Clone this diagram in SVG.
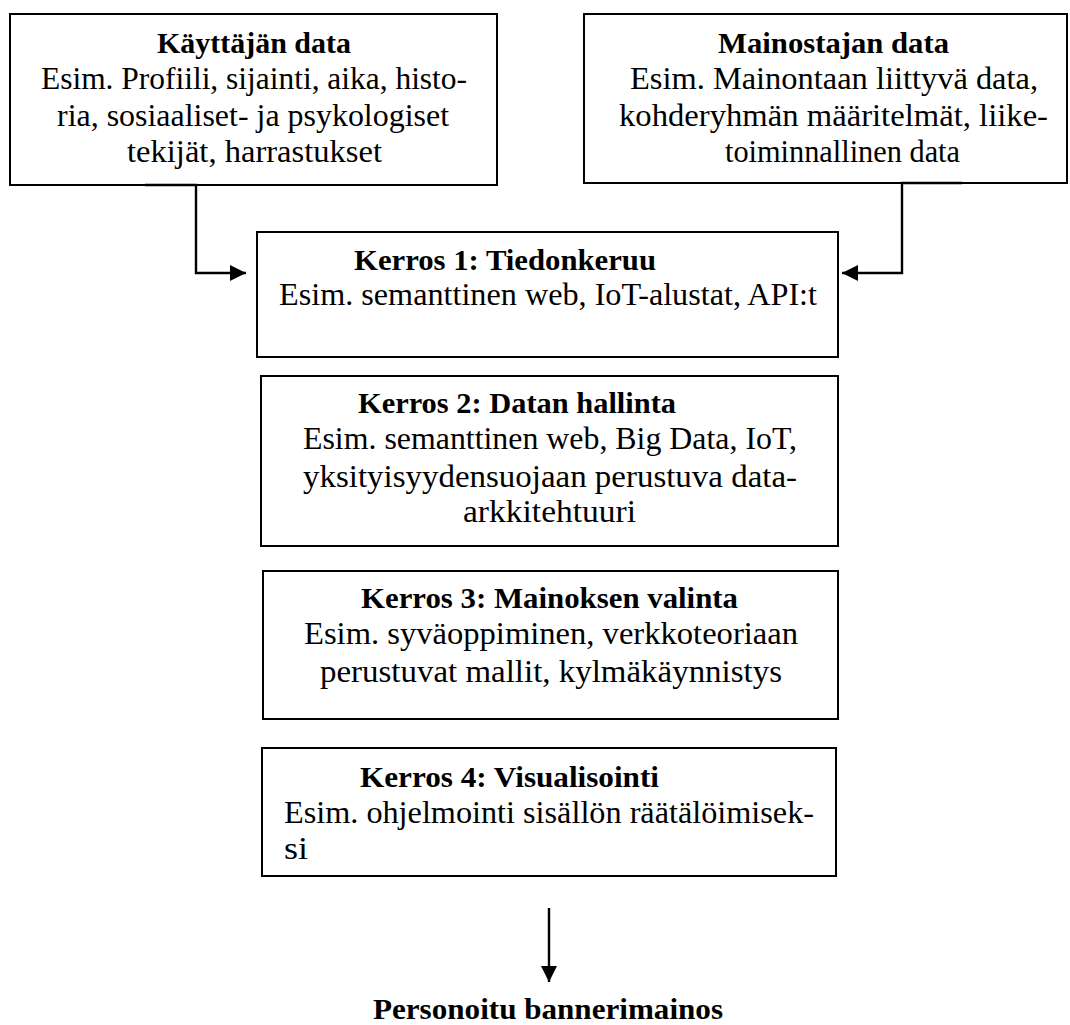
<svg xmlns="http://www.w3.org/2000/svg" width="1070" height="1025" viewBox="0 0 1070 1025">
<style>
.box{fill:#fff;stroke:#000;stroke-width:2}
.t{font-family:"Liberation Serif","DejaVu Serif",serif;font-size:30px;font-weight:bold;fill:#000}
.b{font-family:"Liberation Serif","DejaVu Serif",serif;font-size:32px;fill:#000}
.con{fill:none;stroke:#000;stroke-width:2.4}
</style>
<defs>
<marker id="ah" viewBox="0 0 16 16" refX="16" refY="8" markerWidth="16" markerHeight="16" markerUnits="userSpaceOnUse" orient="auto">
<path d="M0,0 L16,8 L0,16 Z" fill="#000"/>
</marker>
</defs>
<rect width="1070" height="1025" fill="#fff"/>
<g id="kayttajan-data">
<rect class="box" x="10" y="14" width="487" height="171"/>
<text class="t" x="157" y="53" textLength="194" lengthAdjust="spacingAndGlyphs">Käyttäjän data</text>
<text class="b" x="41" y="89" textLength="426" lengthAdjust="spacingAndGlyphs">Esim. Profiili, sijainti, aika, histo-</text>
<text class="b" x="57" y="126" textLength="392" lengthAdjust="spacingAndGlyphs">ria, sosiaaliset- ja psykologiset</text>
<text class="b" x="127" y="162" textLength="255" lengthAdjust="spacingAndGlyphs">tekijät, harrastukset</text>
</g>
<g id="mainostajan-data">
<rect class="box" x="584" y="14" width="483" height="169"/>
<text class="t" x="718" y="53" textLength="231" lengthAdjust="spacingAndGlyphs">Mainostajan data</text>
<text class="b" x="630" y="89" textLength="408" lengthAdjust="spacingAndGlyphs">Esim. Mainontaan liittyvä data,</text>
<text class="b" x="619" y="126" textLength="429" lengthAdjust="spacingAndGlyphs">kohderyhmän määritelmät, liike-</text>
<text class="b" x="725" y="162" textLength="235" lengthAdjust="spacingAndGlyphs">toiminnallinen data</text>
</g>
<g id="kerros1">
<rect class="box" x="257" y="232" width="581" height="125"/>
<text class="t" x="354" y="270" textLength="302" lengthAdjust="spacingAndGlyphs">Kerros 1: Tiedonkeruu</text>
<text class="b" x="279" y="305" textLength="538" lengthAdjust="spacingAndGlyphs">Esim. semanttinen web, IoT-alustat, API:t</text>
</g>
<g id="kerros2">
<rect class="box" x="261" y="376" width="577" height="170"/>
<text class="t" x="358" y="413" textLength="318" lengthAdjust="spacingAndGlyphs">Kerros 2: Datan hallinta</text>
<text class="b" x="303" y="449" textLength="494" lengthAdjust="spacingAndGlyphs">Esim. semanttinen web, Big Data, IoT,</text>
<text class="b" x="303" y="487" textLength="494" lengthAdjust="spacingAndGlyphs">yksityisyydensuojaan perustuva data-</text>
<text class="b" x="463" y="522" textLength="173" lengthAdjust="spacingAndGlyphs">arkkitehtuuri</text>
</g>
<g id="kerros3">
<rect class="box" x="263" y="571" width="575" height="148"/>
<text class="t" x="361" y="608" textLength="377" lengthAdjust="spacingAndGlyphs">Kerros 3: Mainoksen valinta</text>
<text class="b" x="304" y="644" textLength="494" lengthAdjust="spacingAndGlyphs">Esim. syväoppiminen, verkkoteoriaan</text>
<text class="b" x="320" y="682" textLength="462" lengthAdjust="spacingAndGlyphs">perustuvat mallit, kylmäkäynnistys</text>
</g>
<g id="kerros4">
<rect class="box" x="262" y="748" width="574" height="128"/>
<text class="t" x="360" y="787" textLength="299" lengthAdjust="spacingAndGlyphs">Kerros 4: Visualisointi</text>
<text class="b" x="284" y="823" textLength="530" lengthAdjust="spacingAndGlyphs">Esim. ohjelmointi sisällön räätälöimisek-</text>
<text class="b" x="284" y="859" textLength="24" lengthAdjust="spacingAndGlyphs">si</text>
</g>
<g id="tulos">
<text class="t" x="373" y="1019" textLength="350" lengthAdjust="spacingAndGlyphs">Personoitu bannerimainos</text>
</g>
<g id="connectors">
<path class="con" d="M145,185 H196 V273 H246" marker-end="url(#ah)"/>
<path class="con" d="M962,183 H902 V273 H842" marker-end="url(#ah)"/>
<path class="con" d="M549,908 V982" marker-end="url(#ah)"/>
</g>
</svg>
